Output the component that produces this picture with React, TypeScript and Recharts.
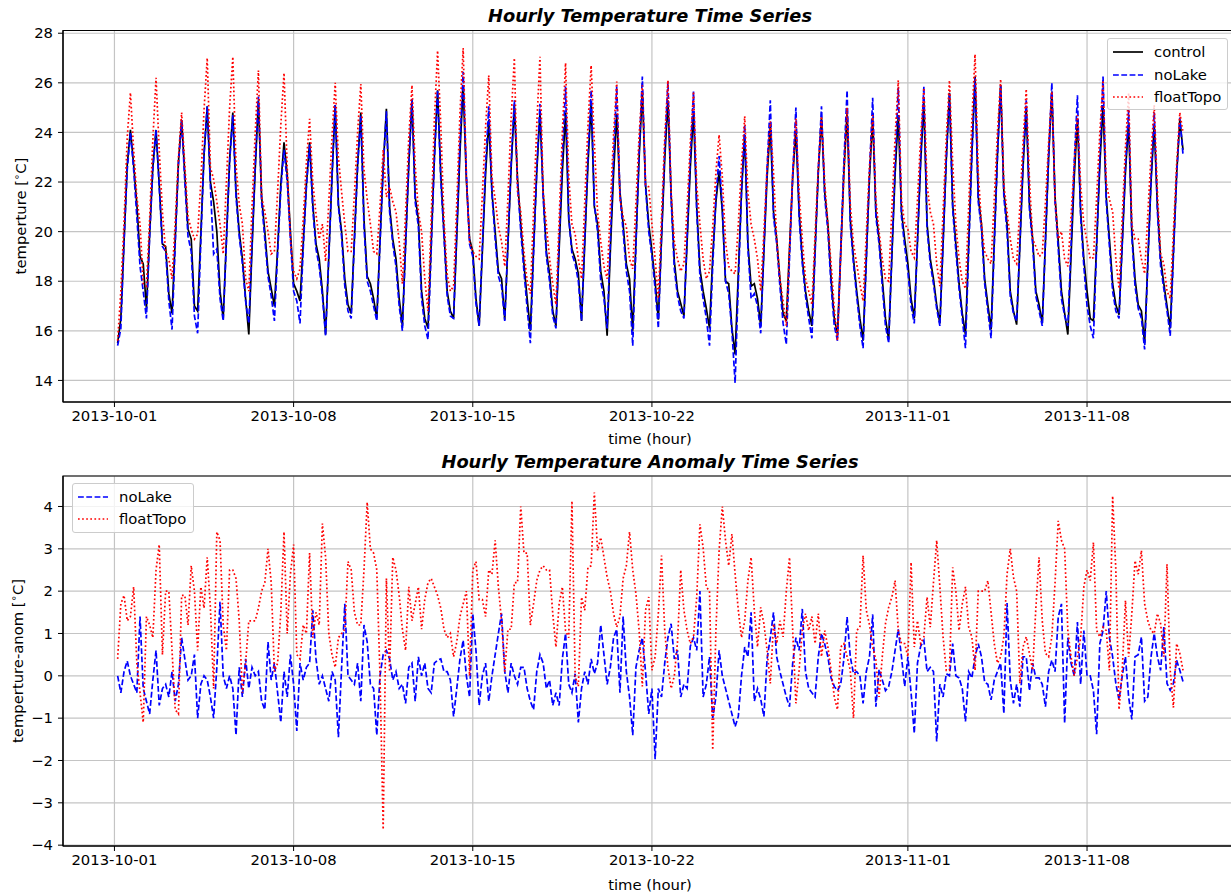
import React from 'react';
import { LineChart, Line, XAxis, YAxis, CartesianGrid, ReferenceArea } from 'recharts';

// time grid: first sample 2013-10-01 03:00, then every 3 hours
const startHour = 3;
const stepHours = 3;

const xTickDays = [0, 7, 14, 21, 31, 38];
const xTickLabels = ['2013-10-01', '2013-10-08', '2013-10-15', '2013-10-22', '2013-11-01', '2013-11-08'];
const tempTicks = [14, 16, 18, 20, 22, 24, 26, 28];
const anomTicks = [-4, -3, -2, -1, 0, 1, 2, 3, 4];

// hourly temperature (sampled 00,03,06,09,12,15,18,21 h per day)
const control: number[][] = [
  [15.5, 16.5, 19.6, 22.7, 24.1, 22.7, 21.1],
  [19.0, 18.7, 16.9, 19.9, 22.6, 24.1, 21.9, 19.5],
  [19.4, 17.5, 16.7, 19.7, 22.8, 24.5, 22.3, 20.1],
  [19.7, 17.0, 16.8, 19.9, 23.1, 25.05, 22.0, 21.2],
  [20.0, 17.6, 16.5, 19.7, 22.9, 24.8, 21.6, 20.0],
  [18.9, 17.3, 15.85, 19.3, 22.5, 25.3, 21.4, 20.0],
  [18.4, 17.7, 17.0, 19.3, 21.9, 23.6, 22.3, 20.0],
  [17.9, 17.6, 17.2, 19.5, 21.9, 23.6, 21.1, 19.5],
  [18.9, 17.6, 15.85, 19.0, 22.2, 25.1, 21.1, 20.0],
  [18.1, 17.05, 16.7, 19.7, 22.7, 24.8, 20.5, 18.2],
  [17.9, 17.3, 16.5, 19.6, 22.6, 24.95, 21.0, 19.7],
  [18.9, 17.3, 16.2, 19.5, 22.7, 25.3, 21.4, 20.5],
  [17.6, 16.5, 16.1, 19.5, 23.0, 25.7, 22.3, 20.0],
  [17.6, 16.8, 16.5, 19.8, 23.2, 25.9, 22.1, 19.7],
  [19.2, 17.3, 16.2, 19.2, 22.3, 24.5, 21.6, 20.0],
  [18.4, 18.1, 16.45, 19.5, 22.6, 25.1, 22.1, 20.3],
  [18.7, 17.3, 16.0, 19.3, 22.4, 24.8, 21.6, 19.2],
  [18.3, 16.8, 16.2, 19.3, 22.4, 24.8, 20.5, 19.3],
  [18.9, 18.3, 16.4, 19.5, 22.7, 25.2, 21.0, 20.3],
  [18.4, 17.6, 15.8, 19.2, 22.3, 24.75, 21.6, 20.3],
  [18.7, 18.1, 16.0, 19.6, 23.0, 25.65, 21.9, 20.3],
  [19.2, 18.0, 16.45, 19.7, 22.9, 25.3, 21.5, 18.8],
  [17.6, 17.1, 16.6, 19.6, 22.6, 24.8, 21.0, 18.5],
  [17.6, 16.9, 16.1, 19.0, 21.2, 22.45, 20.8, 18.0],
  [17.9, 16.1, 15.05, 18.3, 21.6, 23.9, 19.5, 17.8],
  [17.9, 17.3, 16.2, 19.2, 22.2, 24.3, 20.8, 19.7],
  [18.1, 16.7, 16.4, 19.3, 22.2, 24.1, 20.8, 18.9],
  [17.6, 16.8, 16.2, 19.3, 22.4, 24.6, 21.6, 20.3],
  [18.1, 16.5, 15.85, 19.1, 22.4, 24.8, 20.5, 18.9],
  [17.6, 16.5, 15.6, 18.9, 22.2, 24.6, 20.8, 19.7],
  [18.1, 16.5, 15.65, 19.0, 22.3, 24.7, 20.8, 19.7],
  [18.7, 17.3, 16.5, 19.6, 22.8, 25.2, 20.3, 18.9],
  [18.1, 17.05, 16.3, 19.5, 22.9, 25.6, 21.1, 19.5],
  [17.9, 16.7, 15.85, 19.5, 23.2, 26.25, 21.4, 20.3],
  [18.1, 17.05, 16.05, 19.6, 23.1, 25.9, 21.6, 20.3],
  [17.6, 16.8, 16.25, 19.4, 22.6, 25.0, 21.1, 19.7],
  [17.6, 17.05, 16.3, 19.6, 23.0, 25.65, 21.4, 19.6],
  [17.6, 16.7, 15.85, 19.0, 22.2, 24.5, 20.8, 18.9],
  [17.6, 16.5, 16.4, 19.5, 22.7, 25.1, 21.4, 19.7],
  [17.9, 17.05, 16.65, 19.5, 22.4, 24.4, 20.0, 18.1],
  [17.05, 16.8, 15.5, 18.8, 22.0, 24.3, 21.0, 18.9],
  [17.9, 17.0, 16.1, 19.2, 22.3, 24.5, 23.3],
];

const noLake: number[][] = [
  [15.4, 16.1, 19.6, 22.5, 24.0, 22.5, 20.6],
  [18.6, 17.6, 16.5, 19.8, 22.5, 24.1, 21.8, 19.4],
  [19.2, 17.2, 16.05, 19.5, 22.7, 24.5, 22.0, 19.8],
  [19.2, 16.6, 15.9, 19.6, 23.1, 25.05, 21.8, 19.1],
  [19.3, 17.3, 16.4, 19.6, 22.8, 24.7, 21.4, 19.8],
  [18.7, 17.2, 16.3, 19.5, 22.7, 25.45, 21.2, 19.7],
  [18.2, 17.4, 16.4, 19.1, 21.7, 23.3, 22.0, 19.7],
  [17.6, 17.2, 16.3, 19.3, 21.8, 23.5, 20.9, 19.3],
  [18.6, 17.4, 15.8, 19.0, 22.2, 25.1, 21.0, 19.8],
  [17.8, 16.8, 16.5, 19.6, 22.6, 24.7, 20.2, 18.0],
  [17.6, 17.0, 16.4, 19.5, 22.5, 24.85, 20.8, 19.5],
  [18.6, 17.0, 16.0, 19.4, 22.7, 25.35, 21.2, 20.2],
  [17.3, 16.2, 15.65, 19.2, 22.9, 25.7, 22.1, 19.8],
  [17.4, 16.6, 16.5, 20.0, 23.6, 26.45, 22.3, 19.5],
  [19.0, 17.1, 16.2, 19.4, 22.7, 25.05, 21.5, 19.7],
  [18.2, 17.8, 16.4, 19.6, 22.8, 25.3, 21.9, 20.0],
  [18.4, 16.9, 15.5, 19.1, 22.5, 25.15, 21.4, 19.0],
  [18.0, 16.6, 16.1, 19.6, 23.0, 25.85, 20.6, 19.1],
  [18.7, 18.0, 16.4, 19.7, 23.0, 25.7, 21.1, 20.0],
  [18.0, 17.3, 16.1, 19.6, 23.0, 25.85, 21.5, 20.0],
  [18.4, 17.6, 15.4, 19.4, 23.2, 26.25, 21.8, 20.0],
  [19.0, 17.7, 16.1, 19.8, 23.3, 26.05, 21.3, 18.5],
  [17.4, 16.8, 16.5, 19.8, 23.0, 25.65, 20.8, 18.2],
  [17.3, 16.5, 15.4, 18.6, 21.4, 23.05, 21.0, 18.0],
  [17.5, 16.0, 13.9, 17.9, 21.6, 24.3, 19.3, 17.3],
  [17.5, 17.0, 15.9, 19.3, 22.6, 25.3, 20.6, 19.5],
  [17.8, 16.3, 15.45, 18.9, 22.3, 25.0, 20.6, 18.7],
  [17.4, 16.5, 15.7, 19.1, 22.5, 25.05, 21.4, 20.0],
  [17.8, 16.2, 15.6, 19.2, 22.8, 25.7, 20.3, 18.7],
  [17.4, 16.2, 15.3, 18.8, 22.4, 25.4, 20.6, 19.5],
  [17.8, 16.2, 15.5, 19.1, 22.7, 25.8, 20.6, 19.4],
  [18.4, 17.0, 16.3, 19.6, 23.0, 25.85, 20.1, 18.7],
  [17.9, 16.9, 16.2, 19.5, 22.9, 25.6, 20.9, 19.2],
  [17.7, 16.5, 15.3, 19.2, 23.0, 26.2, 21.2, 20.1],
  [17.9, 16.8, 15.7, 19.4, 23.0, 25.9, 21.4, 20.0],
  [17.4, 16.7, 16.4, 19.5, 22.8, 25.3, 20.9, 19.5],
  [17.4, 16.8, 16.2, 19.6, 23.1, 26.0, 21.2, 19.3],
  [17.3, 16.6, 16.2, 19.4, 22.8, 25.5, 20.6, 18.6],
  [17.0, 16.2, 15.7, 19.4, 23.0, 26.25, 21.2, 19.4],
  [17.6, 16.8, 16.5, 19.5, 22.6, 24.9, 19.8, 17.8],
  [16.9, 16.5, 15.25, 18.7, 22.1, 24.8, 20.8, 18.6],
  [17.7, 16.8, 15.8, 19.0, 22.2, 24.6, 23.1],
];

const floatTopo: number[][] = [
  [15.6, 17.6, 20.4, 23.8, 25.6, 23.3, 21.4],
  [20.3, 17.9, 17.8, 20.5, 23.7, 26.2, 23.3, 20.8],
  [19.2, 18.9, 18.1, 20.4, 23.0, 24.8, 22.7, 20.6],
  [20.1, 19.7, 19.9, 22.0, 24.9, 27.0, 22.6, 22.1],
  [21.2, 20.3, 19.1, 22.0, 25.0, 27.05, 22.7, 21.1],
  [20.3, 18.1, 17.6, 21.0, 24.0, 26.5, 21.4, 20.8],
  [20.0, 19.1, 19.2, 21.6, 24.3, 26.4, 22.6, 19.7],
  [18.4, 18.1, 18.5, 20.5, 22.8, 24.55, 22.0, 20.7],
  [19.7, 20.3, 18.8, 21.2, 23.8, 26.0, 23.0, 21.6],
  [20.3, 19.2, 19.2, 21.5, 24.0, 25.95, 22.5, 21.3],
  [20.3, 19.2, 19.1, 21.0, 23.3, 21.4, 21.8, 21.2],
  [20.8, 19.6, 17.9, 20.8, 23.8, 25.9, 22.7, 20.8],
  [20.0, 18.1, 16.8, 20.5, 24.5, 27.3, 24.3, 20.5],
  [18.3, 17.6, 17.8, 21.2, 24.8, 27.4, 22.2, 19.6],
  [19.2, 19.0, 18.9, 21.5, 24.2, 26.3, 22.2, 21.3],
  [20.2, 19.6, 18.6, 21.4, 24.6, 27.0, 21.6, 20.8],
  [19.2, 18.0, 17.5, 20.8, 24.3, 27.05, 21.6, 20.3],
  [18.9, 17.9, 17.05, 20.5, 24.0, 26.8, 22.2, 20.3],
  [19.9, 18.9, 18.1, 21.2, 24.3, 26.7, 23.6, 20.8],
  [19.6, 18.6, 18.1, 21.0, 23.9, 26.05, 21.3, 20.6],
  [20.2, 18.9, 18.5, 21.2, 23.9, 25.9, 21.9, 21.8],
  [20.3, 18.9, 17.3, 20.6, 23.8, 26.1, 21.6, 19.6],
  [18.9, 18.4, 18.7, 21.0, 23.6, 25.65, 21.9, 20.3],
  [18.9, 18.1, 18.4, 20.2, 22.4, 23.9, 22.2, 19.6],
  [18.6, 18.4, 18.3, 20.3, 22.7, 24.65, 21.6, 20.3],
  [19.7, 18.9, 17.6, 20.0, 22.6, 24.45, 22.4, 19.7],
  [18.1, 17.2, 16.2, 19.3, 22.3, 24.55, 21.6, 19.7],
  [18.1, 17.6, 17.05, 19.9, 22.6, 24.65, 22.0, 20.3],
  [18.7, 16.9, 15.6, 19.0, 22.3, 25.0, 21.1, 19.5],
  [18.7, 17.9, 17.2, 19.9, 22.6, 24.7, 21.3, 20.0],
  [18.9, 18.1, 18.0, 20.9, 23.8, 26.1, 21.3, 20.3],
  [20.1, 19.2, 18.95, 21.3, 23.8, 25.8, 21.9, 20.8],
  [20.3, 18.7, 17.8, 20.8, 23.8, 26.1, 22.8, 20.3],
  [18.9, 18.0, 17.7, 21.0, 24.5, 27.15, 22.4, 20.3],
  [19.2, 18.9, 18.7, 21.3, 24.0, 26.15, 21.9, 20.8],
  [19.7, 18.9, 18.7, 21.0, 23.6, 25.75, 22.1, 19.7],
  [19.4, 19.0, 19.1, 21.2, 23.6, 25.65, 21.3, 19.7],
  [20.0, 18.9, 18.6, 20.6, 22.8, 24.7, 21.9, 20.3],
  [19.6, 18.9, 18.95, 21.4, 24.0, 26.1, 22.0, 21.3],
  [20.8, 18.9, 17.7, 20.6, 23.4, 25.6, 20.3, 19.7],
  [19.7, 18.9, 18.3, 20.7, 23.1, 25.1, 21.6, 19.1],
  [18.7, 17.6, 17.3, 20.0, 22.7, 24.8, 24.0],
];

// hourly temperature anomalies (same time grid)
const noLakeAnom: number[][] = [
  [0.0, -0.4, 0.1, 0.35, 0.0, -0.2, -0.4],
  [1.4, -0.3, -0.6, -0.9, -0.1, 0.6, -0.7, -0.3],
  [-0.2, -0.5, 0.1, -0.6, -0.2, 0.9, 0.4, -0.1],
  [0.0, 0.5, -1.0, -0.2, 0.0, -0.1, -0.5, -1.0],
  [0.2, 1.75, 0.0, -0.3, 0.0, -0.3, -1.4, 0.2],
  [-0.5, 0.4, -0.3, 0.2, 0.0, 0.1, -0.6, -0.8],
  [0.8, -0.1, 0.3, -0.4, -1.1, 0.1, -0.5, 0.5],
  [-0.2, -1.3, 0.3, -0.1, 0.2, 0.3, 1.55, 0.4],
  [-0.2, 0.0, -0.3, -0.6, 0.1, -0.1, -1.45, 0.2],
  [1.7, 0.0, -0.1, -0.2, 0.3, -0.6, 1.2, 0.8],
  [-0.2, -0.3, -1.4, 0.0, 0.5, 0.6, 0.4, -0.1],
  [0.1, -0.3, -0.2, -0.65, 0.2, 0.3, -0.6, 0.45],
  [0.0, 0.3, -0.3, -0.4, 0.3, 0.37, 0.4, 0.1],
  [0.1, -0.1, -0.96, -0.3, 0.4, 0.84, 0.0, -0.5],
  [1.47, 0.6, -0.7, 0.0, 0.3, -0.6, 0.0, 0.5],
  [1.0, 1.47, 0.1, -0.4, 0.3, 0.0, -0.2, 0.2],
  [0.2, -0.3, -0.6, -0.8, 0.1, 0.5, 0.3, -0.3],
  [-0.1, -0.7, -0.4, -0.7, 0.4, 1.0, -0.2, -0.4],
  [0.05, -1.1, -0.3, 0.1, -0.2, 0.4, 0.05, 0.3],
  [1.2, 0.5, -0.2, 0.2, 0.9, 1.1, -0.4, 1.4],
  [0.1, -0.5, -1.4, 0.2, 0.6, 0.9, 0.1, -0.9],
  [-0.3, -1.97, -0.3, -0.5, 0.3, 0.9, 1.23, 0.4],
  [0.6, -0.5, -0.2, -0.3, 0.7, 0.9, 0.6, 2.0],
  [-0.5, -0.2, 0.45, -1.0, -0.5, 0.6, 0.0, -0.3],
  [-0.6, -0.9, -1.2, -0.96, 0.0, 0.68, 0.45, 1.5],
  [-0.6, -0.3, -0.55, -0.96, 0.4, 0.9, 1.5, 0.45],
  [0.1, -0.2, -0.5, -0.73, 0.3, 0.9, 0.6, 1.58],
  [0.1, -0.3, -0.4, -0.5, 0.45, 1.0, 0.75, 0.45],
  [-0.05, -0.25, -0.35, -0.2, 0.4, 1.39, 0.45, 0.05],
  [0.1, 0.0, -0.65, 0.1, 0.45, 1.45, -0.73, 0.15],
  [-0.1, -0.35, -0.25, 0.1, 0.6, 1.1, 0.45, -0.25],
  [0.45, -0.4, -1.36, 0.3, 0.7, 0.84, 0.1, 0.2],
  [0.1, -1.55, -0.2, -0.5, 0.05, 0.0, 0.76, 0.0],
  [-0.05, -0.3, -1.08, 0.1, -0.05, 0.45, 0.76, 0.45],
  [-0.15, -0.2, -0.57, -0.1, 0.1, 0.3, -0.89, 1.72],
  [-0.1, -0.65, -0.2, -0.73, 0.45, 0.45, -0.35, 0.3],
  [-0.05, -0.05, -0.2, -0.73, 0.1, 0.37, 0.1, 1.39],
  [1.7, -1.12, 0.9, 0.3, 0.0, 1.27, -0.2, 1.07],
  [0.0, 0.0, -0.35, -1.38, 0.76, 1.07, 2.0, 0.9],
  [0.45, -0.18, -0.57, 0.0, 0.45, -0.5, -1.03, 0.45],
  [0.5, 0.92, -0.6, -0.5, 0.45, 1.0, 0.45, 0.13],
  [1.15, -0.18, -0.34, -0.18, 0.37, 0.13, -0.14],
];

const floatTopoAnom: number[][] = [
  [0.4, 1.7, 1.9, 1.3, 1.4, 2.1, 0.3],
  [-0.4, -1.1, 1.4, 1.2, 0.9, 2.5, 3.1, 0.5],
  [2.0, 2.0, 0.6, -0.8, -0.9, 1.9, 1.9, 1.2],
  [2.6, 2.0, 0.6, 2.1, 1.6, 2.8, 1.6, -0.3],
  [3.4, 3.2, 1.2, 0.6, 2.5, 2.5, 2.3, 1.3],
  [-0.4, 0.3, 1.3, 1.3, 1.3, 1.6, 2.0, 2.2],
  [3.0, 2.2, 0.1, 0.3, 1.5, 3.4, 1.0, 2.4],
  [3.1, 0.5, 0.4, 1.2, 1.0, 2.9, 0.9, 1.5],
  [1.2, 3.6, 2.8, 1.0, 0.5, 0.2, 0.9, 1.0],
  [1.1, 2.7, 2.5, 1.5, 1.2, 1.2, 2.5, 4.1],
  [3.0, 2.9, 2.5, 0.0, -3.63, 2.3, 0.1, 2.8],
  [2.5, 1.9, 1.1, 0.6, 2.1, 1.3, 1.7, 2.1],
  [1.1, 1.8, 2.2, 2.3, 2.1, 1.9, 1.6, 1.1],
  [0.9, 1.0, 0.45, 0.8, 1.4, 1.7, 2.0, 0.0],
  [2.5, 2.7, 1.8, 1.8, 1.4, 2.5, 2.4, 3.2],
  [2.1, 1.3, 0.1, 1.1, 1.1, 2.2, 2.2, 4.0],
  [2.9, 2.9, 1.2, 1.7, 2.25, 2.5, 2.6, 2.5],
  [2.5, 1.47, 0.68, 1.7, 2.1, 1.07, 0.9, 4.13],
  [-0.02, -0.25, 1.86, 1.55, 2.56, 2.6, 4.33, 2.96],
  [3.27, 2.8, 2.33, 2.0, 1.47, 1.15, 1.4, 2.3],
  [2.6, 3.4, 2.5, 1.94, 1.07, -0.25, 1.55, 1.86],
  [0.13, 0.45, 1.47, 2.84, 1.07, 0.2, -0.3, 0.0],
  [0.8, 2.5, 1.55, 1.07, 0.76, 0.92, 1.86, 3.58],
  [3.03, 2.1, 2.0, -1.75, 1.07, 2.96, 4.0, 3.2],
  [2.6, 3.35, 2.4, 1.55, 0.9, 1.3, 2.25, 2.8],
  [1.55, 0.68, 1.62, 1.23, 0.6, -0.18, 1.23, 0.76],
  [1.3, 0.92, 2.0, 2.8, 1.07, -0.65, 0.13, 1.07],
  [1.47, 1.07, 1.4, 0.76, 1.47, 0.45, 1.07, 0.68],
  [0.13, -0.5, -0.8, 0.68, 0.76, 0.45, 0.13, -1.0],
  [1.07, 1.15, 2.84, 1.55, 1.2, 0.68, 0.37, -0.5],
  [0.45, 1.23, 1.62, 1.86, 2.25, 1.07, 0.76, 0.76],
  [0.45, 2.68, 0.68, 1.3, 0.76, 0.92, 1.86, 1.15],
  [2.2, 3.2, 2.1, 0.92, 0.13, 0.13, 2.56, 2.0],
  [1.07, 1.7, 2.1, 1.15, 0.92, 0.13, 2.0, 2.0],
  [2.0, 2.25, 1.5, 0.76, 0.3, 0.45, 0.92, 2.4],
  [3.0, 2.33, 2.0, -0.18, 0.68, 0.92, 0.53, 0.13],
  [1.6, 2.8, 1.3, 0.53, 0.45, 0.92, 2.2, 3.66],
  [3.2, 3.0, 1.07, 0.45, 0.0, 0.45, 0.9, 2.1],
  [2.5, 2.25, 3.15, 1.07, 0.92, 1.15, 1.07, 0.13],
  [4.25, 2.5, -0.8, 0.13, 1.78, 0.45, 1.47, 2.72],
  [2.4, 2.96, 1.7, 1.3, 1.07, 1.0, 1.47, 1.23],
  [0.45, 2.64, 0.13, -0.75, 0.76, 0.53, 0.13],
];

const ctl = control.flat();
const nl = noLake.flat();
const ft = floatTopo.flat();
const nla = noLakeAnom.flat();
const fta = floatTopoAnom.flat();

const tOf = (i: number) => (startHour + i * stepHours) / 24;

const tempData = ctl.map((v, i) => ({ t: tOf(i), control: v, noLake: nl[i], floatTopo: ft[i] }));
const anomData = nla.map((v, i) => ({ t: tOf(i), noLake: v, floatTopo: fta[i] }));

const X_DOMAIN: [number, number] = [-2.01, 43.82];
const T_DOMAIN: [number, number] = [13.13, 28.11];
const A_DOMAIN: [number, number] = [-4.02, 4.72];

const FONT = '"DejaVu Sans", Verdana, sans-serif';
const FS = 14.8;
const GRID = '#c4c4c4';
const LW = 1.7;
const DASH = '5.8 2.5';
const DOT = '1.7 2.4';

const fmtX = (v: number) => {
  const k = xTickDays.indexOf(v);
  return k >= 0 ? xTickLabels[k] : '';
};

const tickStyle = { fill: '#000', fontSize: FS, fontFamily: FONT };

function LegendBox({ left, top, width, height, items }: any) {
  return (
    <div
      style={{
        position: 'absolute', left, top, width, height,
        background: 'rgba(255,255,255,0.8)', border: '1px solid #cccccc', borderRadius: 3,
        boxSizing: 'border-box',
      }}
    >
      {items.map((it: any, k: number) => (
        <div key={k} style={{ position: 'absolute', left: 0, top: it.y - 10, height: 20, width: '100%' }}>
          <svg width={40} height={20} style={{ position: 'absolute', left: 0, top: 0 }}>
            <line x1={5} y1={10} x2={35} y2={10} stroke={it.color} strokeWidth={LW} strokeDasharray={it.dash} />
          </svg>
          <span style={{ position: 'absolute', left: 46, top: 1, fontSize: FS, lineHeight: '18px', color: '#000', fontFamily: FONT }}>
            {it.label}
          </span>
        </div>
      ))}
    </div>
  );
}

const textAbs = (x: number, y: number, extra: any = {}) => ({
  position: 'absolute' as const,
  left: x,
  top: y,
  transform: 'translate(-50%, -50%)',
  whiteSpace: 'nowrap' as const,
  fontFamily: FONT,
  color: '#000',
  ...extra,
});

export default function App() {
  return (
    <div style={{ position: 'absolute', left: 0, top: 0, width: 1231, height: 894, overflow: 'hidden', background: '#fff', fontFamily: FONT }}>
      {/* top panel */}
      <div style={{ position: 'absolute', left: 0, top: 0 }}>
        <LineChart width={1240} height={430} data={tempData} margin={{ top: 30.5, right: 4, bottom: 0, left: 0 }}>
          <CartesianGrid stroke={GRID} strokeWidth={1.2} />
          <XAxis
            dataKey="t" type="number" domain={X_DOMAIN} ticks={xTickDays} interval={0}
            tickFormatter={fmtX} allowDataOverflow height={28} tickSize={5} tickMargin={3}
            stroke="#000" tick={tickStyle}
          />
          <YAxis
            type="number" domain={T_DOMAIN} ticks={tempTicks} interval={0} allowDataOverflow
            width={63} tickSize={5} tickMargin={5} stroke="#000" tick={tickStyle}
          />
          <Line type="linear" dataKey="control" stroke="#000000" strokeWidth={LW} dot={false} isAnimationActive={false} />
          <Line type="linear" dataKey="noLake" stroke="#0000ff" strokeWidth={LW} strokeDasharray={DASH} dot={false} isAnimationActive={false} />
          <Line type="linear" dataKey="floatTopo" stroke="#ff0000" strokeWidth={LW} strokeDasharray={DOT} dot={false} isAnimationActive={false} />
          <ReferenceArea x1={X_DOMAIN[0]} x2={X_DOMAIN[1]} y1={T_DOMAIN[0]} y2={T_DOMAIN[1]} fill="none" stroke="#000" strokeWidth={1.2} ifOverflow="visible" />
        </LineChart>
      </div>

      {/* bottom panel */}
      <div style={{ position: 'absolute', left: 0, top: 446 }}>
        <LineChart width={1240} height={428} data={anomData} margin={{ top: 30, right: 4, bottom: 0, left: 0 }}>
          <CartesianGrid stroke={GRID} strokeWidth={1.2} />
          <XAxis
            dataKey="t" type="number" domain={X_DOMAIN} ticks={xTickDays} interval={0}
            tickFormatter={fmtX} allowDataOverflow height={28} tickSize={5} tickMargin={3}
            stroke="#000" tick={tickStyle}
          />
          <YAxis
            type="number" domain={A_DOMAIN} ticks={anomTicks} interval={0} allowDataOverflow
            width={63} tickSize={5} tickMargin={5} stroke="#000" tick={tickStyle}
            tickFormatter={(v: number) => (v < 0 ? '\u2212' + Math.abs(v) : String(v))}
          />
          <Line type="linear" dataKey="noLake" stroke="#0000ff" strokeWidth={LW} strokeDasharray={DASH} dot={false} isAnimationActive={false} />
          <Line type="linear" dataKey="floatTopo" stroke="#ff0000" strokeWidth={LW} strokeDasharray={DOT} dot={false} isAnimationActive={false} />
          <ReferenceArea x1={X_DOMAIN[0]} x2={X_DOMAIN[1]} y1={A_DOMAIN[0]} y2={A_DOMAIN[1]} fill="none" stroke="#000" strokeWidth={1.2} ifOverflow="visible" />
        </LineChart>
      </div>

      {/* titles and axis labels */}
      <div style={textAbs(650, 15, { fontSize: 17.8, fontWeight: 'bold', fontStyle: 'italic' })}>Hourly Temperature Time Series</div>
      <div style={textAbs(650, 438, { fontSize: FS })}>time (hour)</div>
      <div style={textAbs(20, 216, { fontSize: FS, transform: 'translate(-50%, -50%) rotate(-90deg)' })}>
        temperture [<sup style={{ fontSize: 10 }}>∘</sup>C]
      </div>

      <div style={textAbs(650, 461, { fontSize: 17.8, fontWeight: 'bold', fontStyle: 'italic' })}>Hourly Temperature Anomaly Time Series</div>
      <div style={textAbs(650, 884, { fontSize: FS })}>time (hour)</div>
      <div style={textAbs(17, 661, { fontSize: FS, transform: 'translate(-50%, -50%) rotate(-90deg)' })}>
        temperture-anom [<sup style={{ fontSize: 10 }}>∘</sup>C]
      </div>

      <LegendBox
        left={1107} top={38} width={121} height={72}
        items={[
          { y: 13, label: 'control', color: '#000000', dash: undefined },
          { y: 36, label: 'noLake', color: '#0000ff', dash: DASH },
          { y: 58, label: 'floatTopo', color: '#ff0000', dash: DOT },
        ]}
      />
      <LegendBox
        left={72} top={483} width={122} height={50}
        items={[
          { y: 13, label: 'noLake', color: '#0000ff', dash: DASH },
          { y: 35, label: 'floatTopo', color: '#ff0000', dash: DOT },
        ]}
      />
    </div>
  );
}
